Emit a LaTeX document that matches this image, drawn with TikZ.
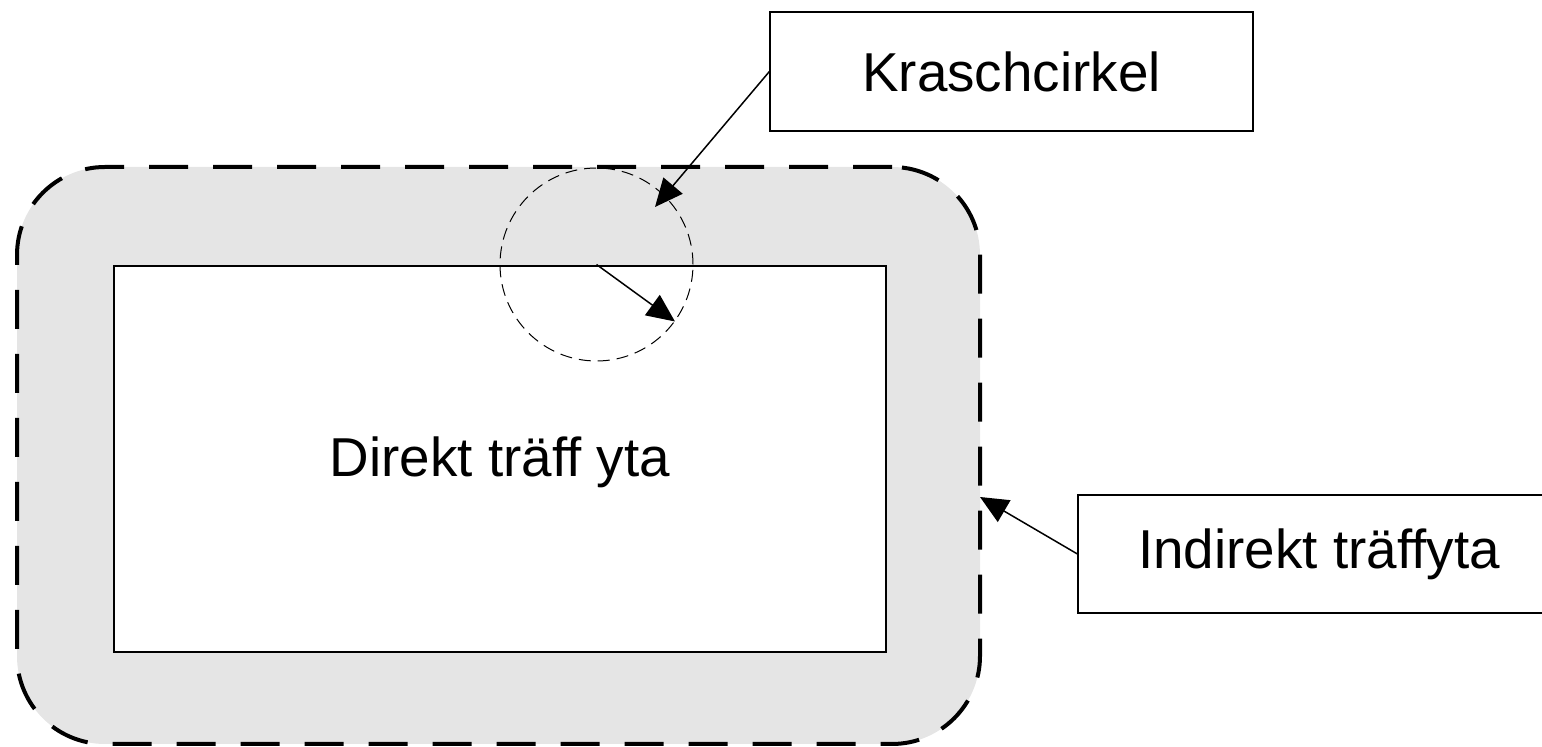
\documentclass[tikz,border=0pt]{standalone}
\usepackage{fontspec}
\setmainfont[Ligatures=CommonOff]{Liberation Sans}
\usetikzlibrary{arrows.meta}
\definecolor{zonegray}{HTML}{E5E5E5}
\tikzset{
  label text/.style={font=\fontsize{27.4}{32}\selectfont},
  callout/.style={draw, line width=0.6pt, fill=white, inner sep=0pt, label text},
  pointer/.style={line width=0.75pt, -{Triangle[length=14pt,width=12.5pt]}},
}
\begin{document}
\begin{tikzpicture}[x=0.5pt, y=-0.5pt]
\useasboundingbox (0,0) rectangle (1542,747);
% indirect hit zone: grey rounded area with heavy dashed border
\node[draw, fill=zonegray, line width=2pt, dash pattern=on 19.5pt off 12.5pt,
      rounded corners=44pt, minimum width=481.5pt, minimum height=288.5pt, inner sep=0pt]
  (zone) at (498.5,455.5) {};
% direct hit area
\node[draw, fill=white, line width=0.75pt, minimum width=386pt, minimum height=193pt,
      inner sep=0pt] (direct) at (500,459) {};
\node[label text] (directlabel) at (500,462) {Direkt träff yta};
% crash circle
\node[draw, circle, dashed, line width=0.5pt, dash pattern=on 6pt off 3.5pt,
      minimum size=96.5pt, inner sep=0pt] (crash) at (596.5,264.5) {};
\draw[pointer] (crash.center) -- (crash.-36);
% callout boxes
\node[callout, minimum width=241.5pt, minimum height=59.5pt] (kbox) at (1011.5,71.5) {Kraschcirkel};
\node[callout, minimum width=241pt, minimum height=59pt] (ibox) at (1319,554) {Indirekt träffyta};
\coordinate (ktip) at (655,207);
\coordinate (itip) at (980,497);
\draw[pointer] (kbox.west) -- (ktip);
\draw[pointer] (ibox.west) -- (itip);
\end{tikzpicture}
\end{document}
